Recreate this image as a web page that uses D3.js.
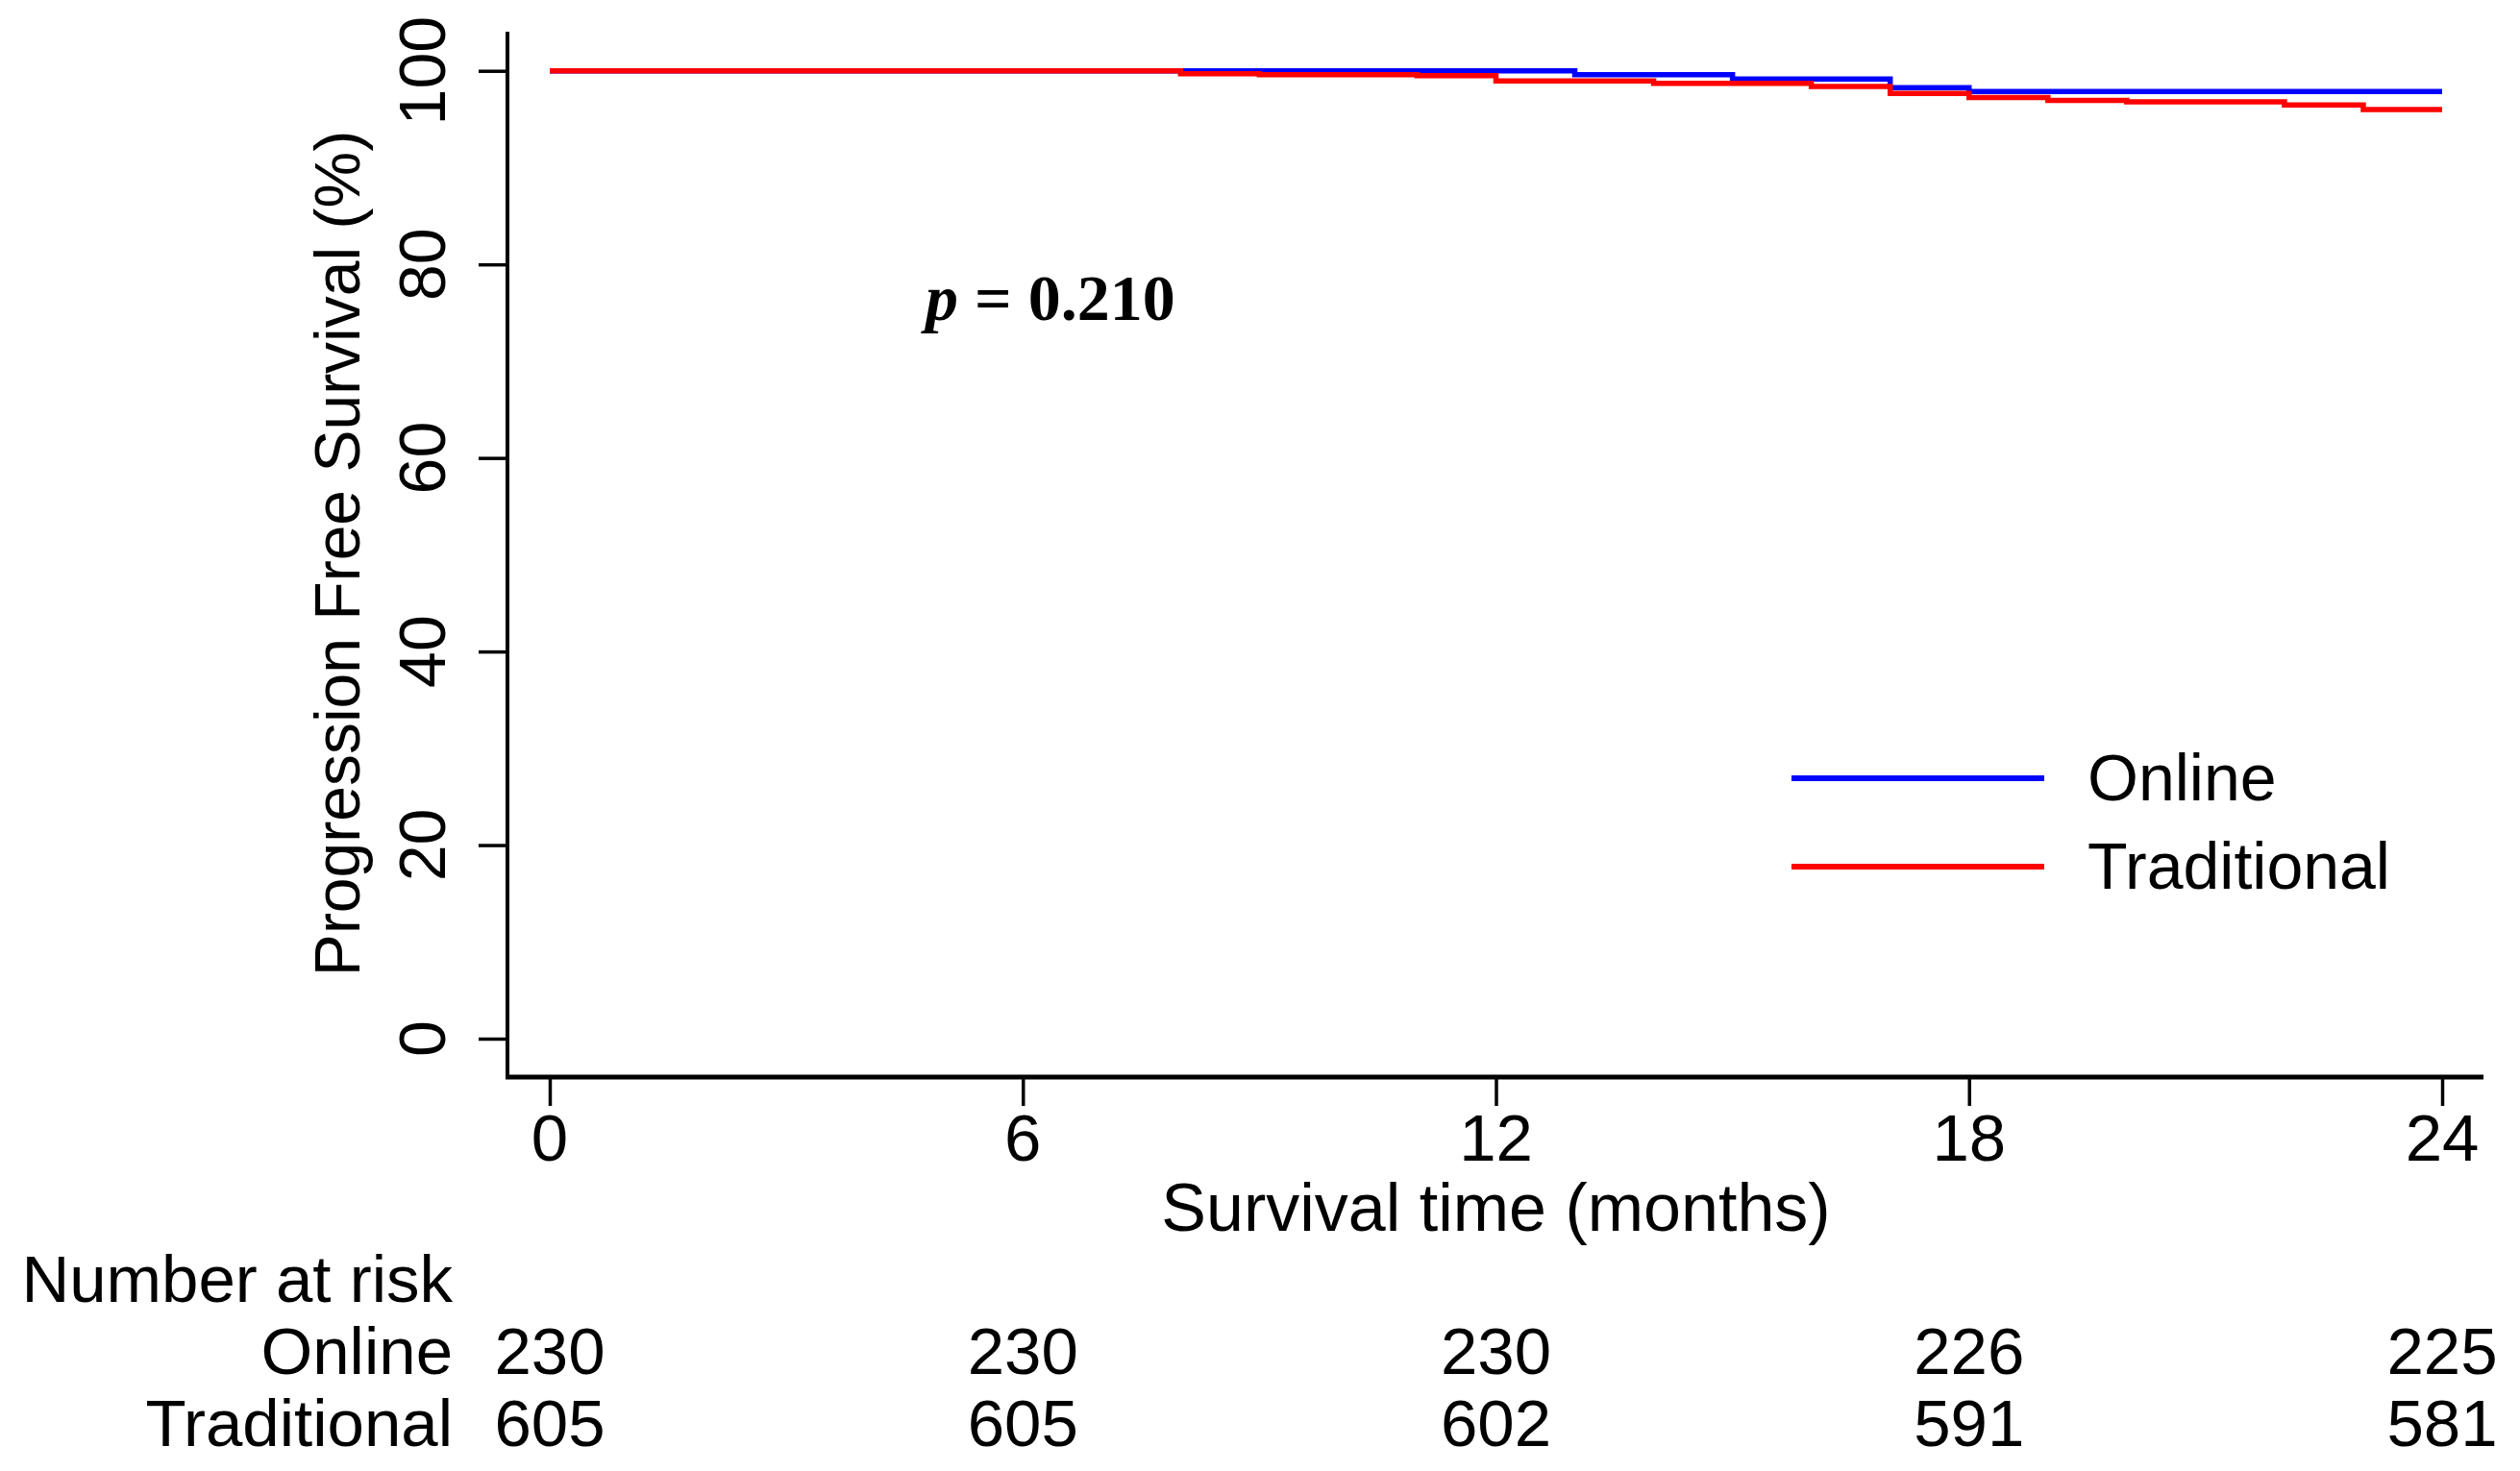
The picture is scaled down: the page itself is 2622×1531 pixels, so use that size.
<!DOCTYPE html>
<html>
<head>
<meta charset="utf-8">
<script src="https://cdn.jsdelivr.net/npm/d3@7"></script>
<style>
  html, body { margin: 0; padding: 0; background: #fff; }
  svg { display: block; }
</style>
</head>
<body>
<svg id="chart" width="2622" height="1531"></svg>
<script>
// ---- data ----
const timeTicks = [0, 6, 12, 18, 24];
const yTicks = [0, 20, 40, 60, 80, 100];
const seriesNames = ["Online", "Traditional"];
const seriesColors = ["#0000ff", "#ff0000"];
const onlineTimes = [0, 13, 15, 17, 18, 24];
const onlineSurv  = [100, 99.6, 99.15, 98.26, 97.85, 97.85];
const tradTimes = [0, 8, 9, 11, 12, 14, 16, 17, 18, 19, 20, 22, 23, 24];
const tradSurv  = [100, 99.7, 99.6, 99.5, 98.95, 98.7, 98.38, 97.66, 97.25, 96.94, 96.8, 96.47, 96.0, 96.0];
const riskOnline = [230, 230, 230, 226, 225];
const riskTrad   = [605, 605, 602, 591, 581];
const pText = "0.210";

// ---- drawing ----
const svg = d3.select("#chart");
const sans = "'Liberation Sans', Arial, Helvetica, sans-serif";
const x = d3.scaleLinear().domain([0, 24]).range([572, 2541]);
const y = d3.scaleLinear().domain([0, 100]).range([1081, 73.7]);

// y axis ticks
const yAxis = d3.axisLeft(y).tickValues(yTicks).tickSize(30).tickSizeOuter(0).tickFormat("");
const gy = svg.append("g").attr("transform", "translate(528,0)").call(yAxis);
gy.select(".domain").remove();
gy.selectAll(".tick line").attr("stroke", "#000").attr("stroke-width", 3.5);

// x axis ticks
const xAxis = d3.axisBottom(x).tickValues(timeTicks).tickSize(30).tickSizeOuter(0).tickFormat("");
const gx = svg.append("g").attr("transform", "translate(0,1121)").call(xAxis);
gx.select(".domain").remove();
gx.selectAll(".tick line").attr("stroke", "#000").attr("stroke-width", 3.5);

// axis lines
svg.append("line").attr("x1", 528).attr("x2", 528).attr("y1", 33).attr("y2", 1123)
  .attr("stroke", "#000").attr("stroke-width", 4);
svg.append("line").attr("x1", 526).attr("x2", 2584).attr("y1", 1121).attr("y2", 1121)
  .attr("stroke", "#000").attr("stroke-width", 5);

// y tick labels (rotated)
svg.append("g").selectAll("text").data(yTicks).join("text")
  .attr("transform", d => `translate(463,${y(d)}) rotate(-90)`)
  .attr("text-anchor", "middle")
  .attr("font-family", sans).attr("font-size", 68)
  .text(d => d);

// x tick labels
svg.append("g").selectAll("text").data(timeTicks).join("text")
  .attr("x", d => x(d)).attr("y", 1208)
  .attr("text-anchor", "middle")
  .attr("font-family", sans).attr("font-size", 69)
  .text(d => d);

// axis titles
svg.append("text").attr("x", x(12)).attr("y", 1281).attr("text-anchor", "middle")
  .attr("font-family", sans).attr("font-size", 70).text("Survival time (months)");
svg.append("text").attr("transform", "translate(374,576) rotate(-90)").attr("text-anchor", "middle")
  .attr("font-family", sans).attr("font-size", 66).text("Progression Free Survival (%)");

// curves
const line = d3.line().x(d => x(d[0])).y(d => y(d[1])).curve(d3.curveStepAfter);
const curves = [d3.zip(onlineTimes, onlineSurv), d3.zip(tradTimes, tradSurv)];
svg.append("g").selectAll("path").data(curves).join("path")
  .attr("d", line).attr("fill", "none")
  .attr("stroke", (d, i) => seriesColors[i]).attr("stroke-width", 5.5);

// p value
svg.append("text").attr("x", 963).attr("y", 333)
  .attr("font-family", "'Liberation Serif', 'Times New Roman', serif").attr("font-size", 68).attr("font-weight", "bold")
  .call(t => {
    t.append("tspan").attr("font-style", "italic").text("p");
    t.append("tspan").text(" = " + pText);
  });

// legend
const legY = [810, 902];
const leg = svg.append("g").selectAll("g").data(seriesNames).join("g");
leg.append("line").attr("x1", 1864).attr("x2", 2127)
  .attr("y1", (d, i) => legY[i]).attr("y2", (d, i) => legY[i])
  .attr("stroke", (d, i) => seriesColors[i]).attr("stroke-width", 6);
leg.append("text").attr("x", 2172).attr("y", (d, i) => legY[i] + 23)
  .attr("font-family", sans).attr("font-size", 68).text(d => d);

// number at risk
svg.append("text").attr("x", 471).attr("y", 1355).attr("text-anchor", "end")
  .attr("font-family", sans).attr("font-size", 69).text("Number at risk");
const riskRows = [riskOnline, riskTrad];
const rowY = [1430, 1505];
riskRows.forEach((row, r) => {
  svg.append("text").attr("x", 471).attr("y", rowY[r]).attr("text-anchor", "end")
    .attr("font-family", sans).attr("font-size", 69).text(seriesNames[r]);
  svg.append("g").selectAll("text").data(row).join("text")
    .attr("x", (d, i) => x(timeTicks[i])).attr("y", rowY[r])
    .attr("text-anchor", "middle")
    .attr("font-family", sans).attr("font-size", 69).text(d => d);
});
</script>
</body>
</html>
